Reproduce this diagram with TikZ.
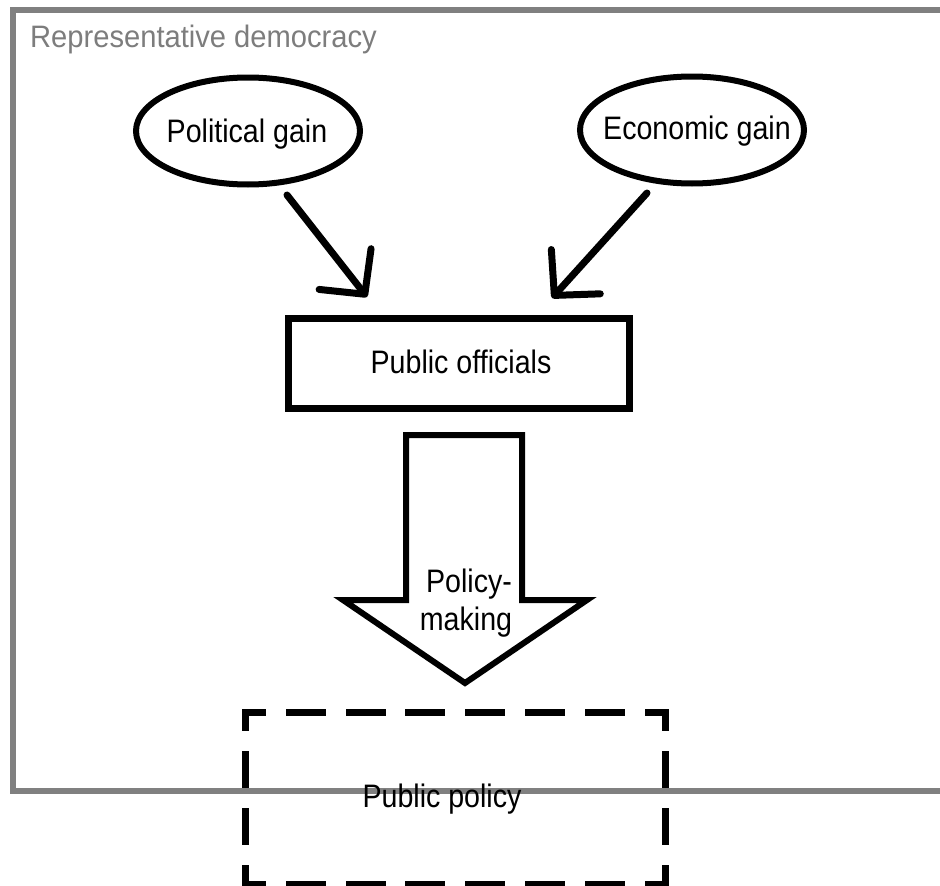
\documentclass[tikz,border=0pt]{standalone}
\usepackage{fontspec}
\setmainfont{Liberation Sans}
\newfontfamily\lblfont[FakeStretch=0.88]{Liberation Sans}
\newfontfamily\titlefont[FakeStretch=0.94]{Liberation Sans}
\usetikzlibrary{shapes.geometric,arrows.meta}
\definecolor{framegray}{RGB}{128,128,128}
\definecolor{titlegray}{RGB}{125,125,125}
\begin{document}
\begin{tikzpicture}[x=1pt,y=-1pt,
  lbl/.style={font=\lblfont\fontsize{32.5}{36}\selectfont, inner sep=0pt, anchor=base},
  ell/.style={ellipse, draw, line width=6pt, minimum width=224pt, minimum height=107pt, inner sep=0pt},
  conn/.style={line width=7pt, line cap=round, -{Straight Barb[length=32pt, width=66pt, round]}},
  solidbox/.style={draw, line width=7pt, minimum width=341pt, minimum height=90pt, inner sep=0pt},
  dashh/.style={line width=7pt, line cap=rect, dash pattern=on 33pt off 26.86pt, dash phase=16.5pt},
  dashv/.style={line width=7pt, line cap=rect, dash pattern=on 30pt off 27pt, dash phase=15pt},
  blockarrow/.style={draw, line width=6pt, line join=miter, fill=white}]
\useasboundingbox (0,0) rectangle (940,886);
\clip (0,0) rectangle (940,886);
\fill[white] (0,0) rectangle (940,886);
% frame
\draw[framegray, line width=6pt] (970,10) -- (13,10) -- (13,791) -- (970,791);
\node[anchor=base west, inner sep=0pt, text=titlegray, font=\titlefont\fontsize{31}{34}\selectfont] (title) at (30,47) {Representative democracy};
% ellipses
\node[ell] (pg) at (248,131) {};
\node[lbl] (pgt) at (247,142) {Political gain};
\node[ell] (eg) at (692,130) {};
\node[lbl] (egt) at (697,139) {Economic gain};
% public officials
\node[solidbox] (po) at (459,363.5) {};
\node[lbl] (pot) at (461,373) {Public officials};
% arrows
\coordinate (a1s) at (287,195);
\coordinate (a1e) at (367,297);
\coordinate (a2s) at (647,193);
\coordinate (a2e) at (552,298);
\draw[conn] (a1s) -- (a1e);
\draw[conn] (a2s) -- (a2e);
% block arrow
\draw[blockarrow] (406,435) -- (522,435) -- (522,600) -- (587,600) -- (465,683) -- (343,600) -- (406,600) -- cycle;
\node[lbl] (pm1) at (469,592) {Policy-};
\node[lbl] (pm2) at (466,630) {making};
% public policy
\node[minimum width=419pt, minimum height=171pt, inner sep=0pt] (pp) at (455.5,798.5) {};
\draw[dashh] (pp.north west) -- (pp.north east);
\draw[dashh] (pp.south west) -- (pp.south east);
\draw[dashv] (pp.north west) -- (pp.south west);
\draw[dashv] (pp.north east) -- (pp.south east);
\node[lbl] (ppt) at (442,807) {Public policy};
\end{tikzpicture}
\end{document}
